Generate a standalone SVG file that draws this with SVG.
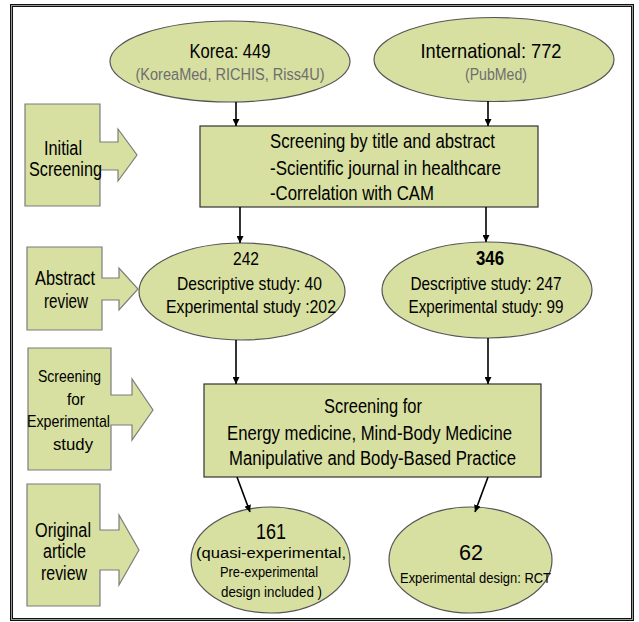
<svg xmlns="http://www.w3.org/2000/svg" width="639" height="622" viewBox="0 0 639 622">
<defs>
<marker id="ah" viewBox="0 0 10 10" refX="10" refY="5" markerWidth="7" markerHeight="7" markerUnits="userSpaceOnUse" orient="auto">
<path d="M0,0 L10,5 L0,10 z" fill="#000"/>
</marker>
<style>
.t{font-family:"Liberation Sans",Arial,sans-serif;fill:#000;}
.g{fill:#6e6e6e;}
.el{fill:#d7dfa1;stroke:#555;stroke-width:1.2;}
.bx{fill:#d7dfa1;stroke:#333;stroke-width:1.2;}
.sd{fill:#d7dfa1;stroke:#7d7d7d;stroke-width:1.2;}
.cn{stroke:#000;stroke-width:1.6;fill:none;marker-end:url(#ah);}
</style>
</defs>
<rect width="639" height="622" fill="#fff"/>
<g id="frame" fill="none">
<rect x="10.5" y="4.5" width="623" height="616" stroke="#111" stroke-width="1"/>
<rect x="11.5" y="5.5" width="621" height="614" stroke="#999" stroke-width="1"/>
<rect x="12.5" y="6.5" width="619" height="612" stroke="#111" stroke-width="1"/>
</g>
<g id="korea">
<ellipse class="el" cx="230" cy="61.5" rx="120" ry="40.5"/>
<text class="t" x="230" y="58" font-size="21" text-anchor="middle" textLength="81" lengthAdjust="spacingAndGlyphs">Korea: 449</text>
<text class="t g" x="230" y="80" font-size="16" text-anchor="middle" textLength="189" lengthAdjust="spacingAndGlyphs">(KoreaMed, RICHIS, Riss4U)</text>
</g>
<g id="international">
<ellipse class="el" cx="494" cy="59.5" rx="120" ry="42"/>
<text class="t" x="491" y="58" font-size="21" text-anchor="middle" textLength="141" lengthAdjust="spacingAndGlyphs">International: 772</text>
<text class="t g" x="496" y="80" font-size="16" text-anchor="middle" textLength="62" lengthAdjust="spacingAndGlyphs">(PubMed)</text>
</g>
<g id="initial-screening">
<polygon class="sd" points="25,104 100,104 100,142 118,142 118,129 137,155 118,181 118,170 100,170 100,206 25,206"/>
<text class="t" x="63" y="155" font-size="19.5" text-anchor="middle" textLength="38" lengthAdjust="spacingAndGlyphs">Initial</text>
<text class="t" x="65.5" y="176" font-size="19.5" text-anchor="middle" textLength="73" lengthAdjust="spacingAndGlyphs">Screening</text>
</g>
<g id="screening-title">
<rect class="bx" x="200" y="126" width="338" height="81"/>
<text class="t" x="270" y="148" font-size="19.5" textLength="225" lengthAdjust="spacingAndGlyphs">Screening by title and abstract</text>
<text class="t" x="270" y="175" font-size="19.5" textLength="231" lengthAdjust="spacingAndGlyphs">-Scientific journal in healthcare</text>
<text class="t" x="270" y="200" font-size="19.5" textLength="164" lengthAdjust="spacingAndGlyphs">-Correlation with CAM</text>
</g>
<g id="abstract-review">
<polygon class="sd" points="27,247 102,247 102,278 119,278 119,268 138,289 119,310 119,300 102,300 102,330 27,330"/>
<text class="t" x="65" y="285" font-size="21" text-anchor="middle" textLength="60" lengthAdjust="spacingAndGlyphs">Abstract</text>
<text class="t" x="66" y="308" font-size="21" text-anchor="middle" textLength="44" lengthAdjust="spacingAndGlyphs">review</text>
</g>
<g id="korea-abstract">
<ellipse class="el" cx="242" cy="291.5" rx="103" ry="48.5"/>
<text class="t" x="246" y="265" font-size="19" text-anchor="middle" textLength="26" lengthAdjust="spacingAndGlyphs">242</text>
<text class="t" x="249.5" y="290" font-size="19" text-anchor="middle" textLength="145" lengthAdjust="spacingAndGlyphs">Descriptive study: 40</text>
<text class="t" x="251" y="313" font-size="19" text-anchor="middle" textLength="170" lengthAdjust="spacingAndGlyphs">Experimental study :202</text>
</g>
<g id="intl-abstract">
<ellipse class="el" cx="487" cy="290" rx="105" ry="48"/>
<text class="t" x="490" y="265" font-size="20" font-weight="bold" text-anchor="middle" textLength="28" lengthAdjust="spacingAndGlyphs">346</text>
<text class="t" x="486" y="290" font-size="19" text-anchor="middle" textLength="151" lengthAdjust="spacingAndGlyphs">Descriptive study: 247</text>
<text class="t" x="486" y="313" font-size="19" text-anchor="middle" textLength="155" lengthAdjust="spacingAndGlyphs">Experimental study: 99</text>
</g>
<g id="screening-experimental">
<polygon class="sd" points="28,348 111,348 111,395 132,395 132,379 153,410 132,440 132,425 111,425 111,470 28,470"/>
<text class="t" x="69.5" y="382" font-size="17" text-anchor="middle" textLength="63" lengthAdjust="spacingAndGlyphs">Screening</text>
<text class="t" x="76" y="405" font-size="17" text-anchor="middle" textLength="18" lengthAdjust="spacingAndGlyphs">for</text>
<text class="t" x="68.5" y="427" font-size="17" text-anchor="middle" textLength="83" lengthAdjust="spacingAndGlyphs">Experimental</text>
<text class="t" x="73" y="450" font-size="17" text-anchor="middle" textLength="40" lengthAdjust="spacingAndGlyphs">study</text>
</g>
<g id="screening-cam">
<rect class="bx" x="204" y="384" width="337" height="93"/>
<text class="t" x="373" y="413" font-size="19.5" text-anchor="middle" textLength="98" lengthAdjust="spacingAndGlyphs">Screening for</text>
<text class="t" x="369.5" y="440" font-size="19.5" text-anchor="middle" textLength="285" lengthAdjust="spacingAndGlyphs">Energy medicine, Mind-Body Medicine</text>
<text class="t" x="372.5" y="465" font-size="19.5" text-anchor="middle" textLength="287" lengthAdjust="spacingAndGlyphs">Manipulative and Body-Based Practice</text>
</g>
<g id="original-review">
<polygon class="sd" points="27,484 100,484 100,530 119,530 119,515 139,550 119,585 119,570 100,570 100,606 27,606"/>
<text class="t" x="63" y="537" font-size="20" text-anchor="middle" textLength="56" lengthAdjust="spacingAndGlyphs">Original</text>
<text class="t" x="64.5" y="558" font-size="20" text-anchor="middle" textLength="43" lengthAdjust="spacingAndGlyphs">article</text>
<text class="t" x="64" y="580" font-size="20" text-anchor="middle" textLength="46" lengthAdjust="spacingAndGlyphs">review</text>
</g>
<g id="korea-final">
<ellipse class="el" cx="270.5" cy="560" rx="79.5" ry="53"/>
<text class="t" x="271" y="539" font-size="22" text-anchor="middle" textLength="30" lengthAdjust="spacingAndGlyphs">161</text>
<text class="t" x="271" y="558" font-size="15.5" text-anchor="middle" textLength="150" lengthAdjust="spacingAndGlyphs">(quasi-experimental,</text>
<text class="t" x="269" y="577" font-size="15.5" text-anchor="middle" textLength="98" lengthAdjust="spacingAndGlyphs">Pre-experimental</text>
<text class="t" x="271.5" y="597" font-size="15.5" text-anchor="middle" textLength="101" lengthAdjust="spacingAndGlyphs">design included )</text>
</g>
<g id="intl-final">
<ellipse class="el" cx="470.5" cy="560" rx="81.5" ry="53"/>
<text class="t" x="471" y="560" font-size="22" text-anchor="middle" textLength="24" lengthAdjust="spacingAndGlyphs">62</text>
<text class="t" x="475.5" y="583" font-size="15.5" text-anchor="middle" textLength="151" lengthAdjust="spacingAndGlyphs">Experimental design: RCT</text>
</g>
<g id="connectors">
<line class="cn" x1="236" y1="102" x2="236" y2="126"/>
<line class="cn" x1="488" y1="101" x2="488" y2="126"/>
<line class="cn" x1="240" y1="207" x2="240" y2="243"/>
<line class="cn" x1="486" y1="207" x2="486" y2="242"/>
<line class="cn" x1="236" y1="340" x2="236" y2="384"/>
<line class="cn" x1="488" y1="338" x2="488" y2="384"/>
<line class="cn" x1="237" y1="477" x2="250" y2="512"/>
<line class="cn" x1="488" y1="477" x2="475" y2="512"/>
</g>
</svg>
